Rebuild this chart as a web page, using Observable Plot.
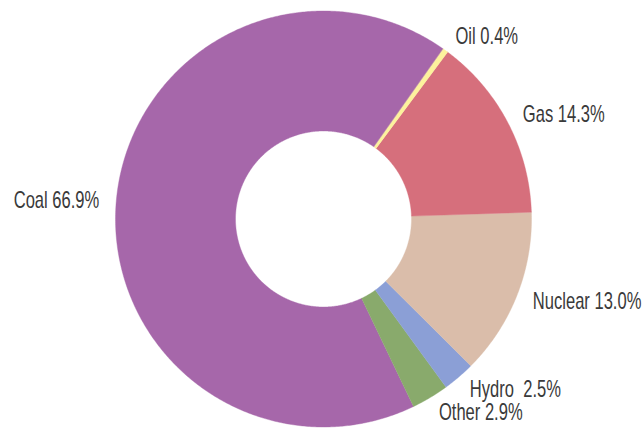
<!DOCTYPE html>
<html><head><meta charset="utf-8">
<script src="https://cdn.jsdelivr.net/npm/d3@7"></script>
<script src="https://cdn.jsdelivr.net/npm/@observablehq/plot@0.6"></script>
<style>html,body{margin:0;padding:0;background:#fff;} svg text{white-space:pre;}</style>
</head><body><div id="chart"></div>
<script>
// ---- data ----
const categories = ["Oil", "Gas", "Nuclear", "Hydro", "Other", "Coal"];
const shares = [0.4, 14.3, 13.0, 2.5, 2.9, 66.9];
const labels = ["Oil 0.4%", "Gas 14.3%", "Nuclear 13.0%", "Hydro  2.5%", "Other 2.9%", "Coal 66.9%"];
const colors = ["#fdf29c", "#d66f7c", "#dabdaa", "#8b9fd6", "#89aa6c", "#a667aa"];

// ---- layout ----
const W = 644, H = 429, CX = 323, CY = 218.5;
const R_OUT = 208, R_IN = 88, START = 35.2, LABEL_R = 225;
const FONT = 23, SX = 0.72, FAMILY = '"Liberation Sans", Arial, sans-serif';

const total = d3.sum(shares);
let acc = START;
const slices = categories.map((c, i) => {
  const a0 = acc, a1 = acc + shares[i] / total * 360;
  acc = a1;
  return {name: c, a0, a1, mid: (a0 + a1) / 2};
});
const rad = d => d * Math.PI / 180;

// ring polygons (drawn in reverse so the thin slices sit on top)
const pts = [];
slices.slice().reverse().forEach(s => {
  const n = Math.max(2, Math.ceil((s.a1 - s.a0) / 0.5));
  for (let k = 0; k <= n; k++) {
    const a = rad(s.a0 + (s.a1 - s.a0) * k / n);
    pts.push({name: s.name, x: R_OUT * Math.sin(a), y: -R_OUT * Math.cos(a)});
  }
  for (let k = n; k >= 0; k--) {
    const a = rad(s.a0 + (s.a1 - s.a0) * k / n);
    pts.push({name: s.name, x: R_IN * Math.sin(a), y: -R_IN * Math.cos(a)});
  }
});

const labelData = slices.map((s, i) => {
  const a = rad(s.mid);
  return {text: labels[i], x: LABEL_R * Math.sin(a), y: -LABEL_R * Math.cos(a), right: Math.sin(a) >= 0};
});

const textOpts = {x: "x", y: "y", text: "text", fontSize: FONT, fontFamily: FAMILY,
  fill: "#3a3a3a", lineAnchor: "middle"};

const chart = Plot.plot({
  width: W, height: H, margin: 0,
  x: {domain: [-CX, W - CX], range: [0, W], axis: null},
  y: {domain: [-CY, H - CY], range: [0, H], axis: null},
  color: {domain: categories, range: colors},
  marks: [
    Plot.line(pts, {x: "x", y: "y", z: "name", fill: "name", stroke: "name", strokeWidth: 0.4, curve: "linear-closed"}),
    Plot.text(labelData.filter(d => d.right), {...textOpts, textAnchor: "start"}),
    Plot.text(labelData.filter(d => !d.right), {...textOpts, textAnchor: "end"})
  ]
});
chart.querySelectorAll('g[aria-label="text"] text').forEach(t => {
  const x = t.getAttribute("x");
  const tr = t.getAttribute("transform") || "";
  if (x !== null && x !== "") {
    t.setAttribute("transform", `${tr} translate(${x},0) scale(${SX},1) translate(${-x},0)`);
  } else {
    t.setAttribute("transform", `${tr} scale(${SX},1)`);
  }
});
document.getElementById("chart").appendChild(chart);
</script>
</body></html>
